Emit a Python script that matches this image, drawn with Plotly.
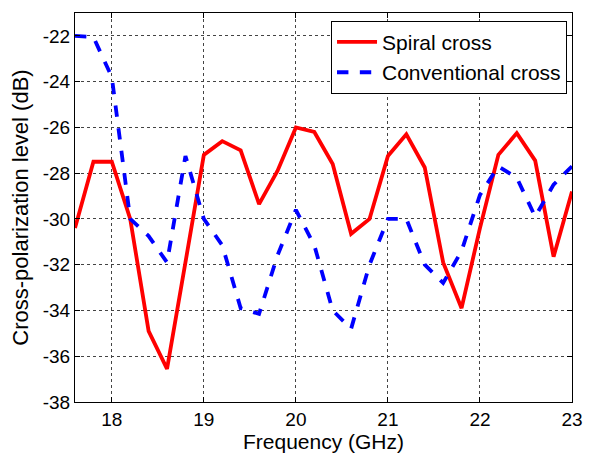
import plotly.graph_objects as go

freq = [17.6, 17.8, 18.0, 18.2, 18.4, 18.6, 18.8, 19.0, 19.2, 19.4, 19.6, 19.8, 20.0, 20.2,
        20.4, 20.6, 20.8, 21.0, 21.2, 21.4, 21.6, 21.8, 22.0, 22.2, 22.4, 22.6, 22.8, 23.0]
spiral = [-30.4, -27.5, -27.5, -30.0, -34.9, -36.55, -31.9, -27.2, -26.6, -27.0, -29.35, -27.9, -26.0, -26.2,
          -27.6, -30.65, -30.0, -27.25, -26.3, -27.75, -31.9, -33.9, -30.4, -27.2, -26.25, -27.45, -31.65, -28.8]
conventional = [-22.0, -22.05, -23.8, -30.0, -30.75, -31.9, -27.25, -30.0, -31.15, -33.9, -34.15, -31.6, -29.6, -31.15,
                -34.0, -34.8, -32.0, -30.0, -30.0, -32.0, -32.8, -31.4, -28.95, -27.7, -28.2, -29.9, -28.5, -27.7]

xticks = [18, 19, 20, 21, 22, 23]
yticks = [-38, -36, -34, -32, -30, -28, -26, -24, -22]

fig = go.Figure()
fig.add_trace(go.Scatter(x=freq, y=spiral, mode="lines", name="Spiral cross",
                         line=dict(color="#ff0000", width=3.8)))
fig.add_trace(go.Scatter(x=freq, y=conventional, mode="lines", name="Conventional cross",
                         line=dict(color="#0000ff", width=3.8, dash="dash")))

axis_common = dict(showline=True, linecolor="black", linewidth=1, mirror="ticks",
                   ticks="inside", ticklen=5, tickcolor="black",
                   showgrid=True, gridcolor="#444444", griddash="dot", gridwidth=1,
                   zeroline=False, tickfont=dict(size=19, color="black"))

fig.update_layout(
    width=595, height=457,
    margin=dict(l=75, r=13, t=12, b=51),
    paper_bgcolor="white", plot_bgcolor="white",
    font=dict(family="Liberation Sans, Arial, sans-serif", size=18, color="black"),
    xaxis=dict(range=[17.6, 23], tickvals=xticks, ticktext=[str(v) for v in xticks],
               title=dict(text="Frequency (GHz)", standoff=1, font=dict(size=21)), **axis_common),
    yaxis=dict(range=[-38, -21], tickvals=yticks, ticktext=[str(v) for v in yticks],
               title=dict(text="Cross-polarization level (dB)", standoff=8, font=dict(size=22)), **axis_common),
    legend=dict(x=0.99, y=0.98, xanchor="right", yanchor="top", bgcolor="white",
                bordercolor="black", borderwidth=1, font=dict(size=21),
                tracegroupgap=0, itemwidth=40),
    showlegend=True,
)

fig.write_html("out.html")
